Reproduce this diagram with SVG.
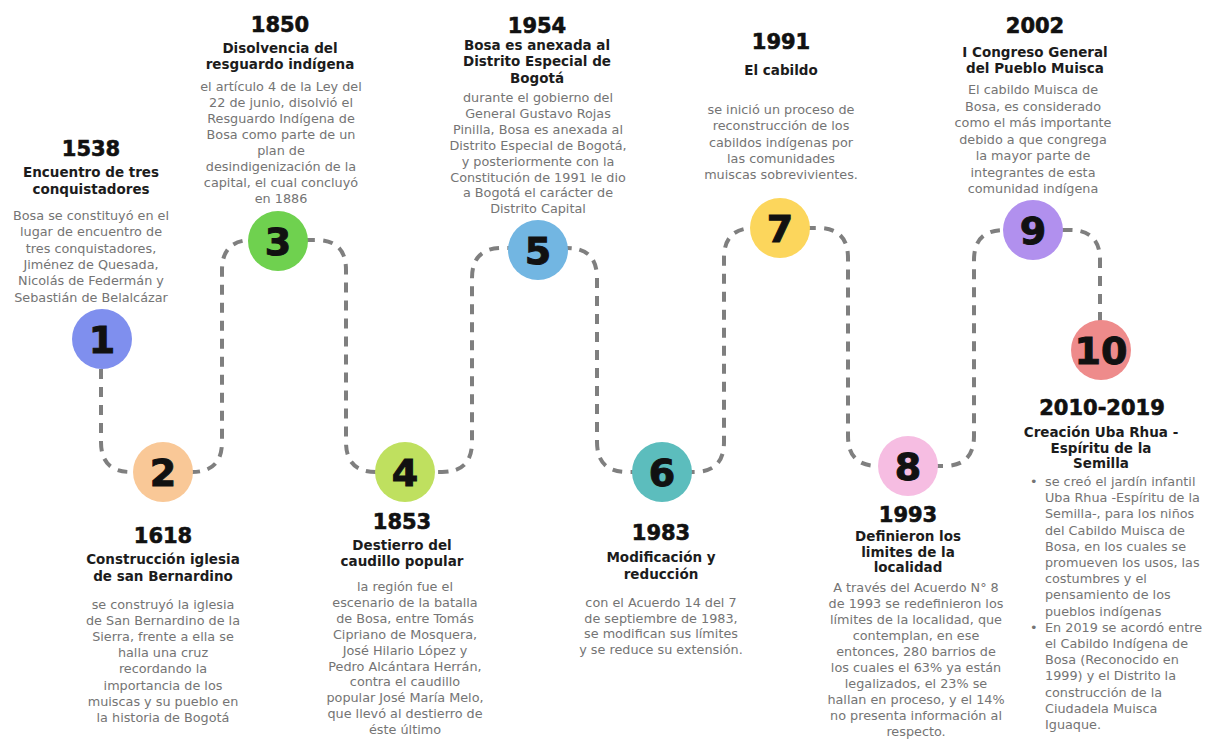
<svg xmlns="http://www.w3.org/2000/svg" width="1211" height="740" viewBox="0 0 1211 740">
<style>
.yr{font-family:"DejaVu Sans",sans-serif;font-weight:bold;font-size:21px;fill:#111;stroke:#111;stroke-width:0.6;text-anchor:middle}
.hd{font-family:"DejaVu Sans",sans-serif;font-weight:bold;font-size:13.5px;fill:#1c1c1c;text-anchor:middle}
.bd{font-family:"DejaVu Sans",sans-serif;font-size:12.8px;fill:#747474;text-anchor:middle}
.ls{font-family:"DejaVu Sans",sans-serif;font-size:12.8px;fill:#747474}
.num{font-family:"DejaVu Sans",sans-serif;font-weight:bold;font-size:38px;fill:#111;stroke:#111;stroke-width:1;text-anchor:middle}
.conn{fill:none;stroke:#7f7f7f;stroke-width:4;stroke-dasharray:10 8}
</style>
<rect width="1211" height="740" fill="#ffffff"/>
<g id="connectors">
<path class="conn" d="M101,369 V442 Q101,472 131,472 H192 Q222,472 222,442 V270 Q222,240 252,240 H316 Q346,240 346,270 V442 Q346,472 376,472 H442 Q472,472 472,442 V278 Q472,248 502,248 H567 Q597,248 597,278 V442 Q597,472 627,472 H694 Q724,472 724,442 V258 Q724,228 754,228 H818 Q848,228 848,258 V436 Q848,466 878,466 H944 Q974,466 974,436 V260 Q974,230 1004,230 H1070 Q1100,230 1100,260 V322"/>
</g>
<g id="n1">
<circle cx="102" cy="339" r="30" fill="#7f8fee"/>
<text class="num" x="102" y="353">1</text>
<text class="yr" x="91" y="156">1538</text>
<text class="hd" x="91" y="177">Encuentro de tres<tspan x="91" dy="16.5">conquistadores</tspan></text>
<text class="bd" x="91" y="220">Bosa se constituyó en el<tspan x="91" dy="16.3">lugar de encuentro de</tspan><tspan x="91" dy="16.3">tres conquistadores,</tspan><tspan x="91" dy="16.3">Jiménez de Quesada,</tspan><tspan x="91" dy="16.3">Nicolás de Federmán y</tspan><tspan x="91" dy="16.3">Sebastián de Belalcázar</tspan></text>
</g>
<g id="n2">
<circle cx="163" cy="472" r="30" fill="#f9c897"/>
<text class="num" x="163" y="486">2</text>
<text class="yr" x="163" y="543">1618</text>
<text class="hd" x="163" y="564">Construcción iglesia<tspan x="163" dy="17">de san Bernardino</tspan></text>
<text class="bd" x="163" y="609">se construyó la iglesia<tspan x="163" dy="16.1">de San Bernardino de la</tspan><tspan x="163" dy="16.1">Sierra, frente a ella se</tspan><tspan x="163" dy="16.1">halla una cruz</tspan><tspan x="163" dy="16.1">recordando la</tspan><tspan x="163" dy="16.1">importancia de los</tspan><tspan x="163" dy="16.1">muiscas y su pueblo en</tspan><tspan x="163" dy="16.1">la historia de Bogotá</tspan></text>
</g>
<g id="n3">
<circle cx="278" cy="241" r="30" fill="#6fd14f"/>
<text class="num" x="278" y="255">3</text>
<text class="yr" x="280" y="32">1850</text>
<text class="hd" x="280" y="53">Disolvencia del<tspan x="280" dy="15.5">resguardo indígena</tspan></text>
<text class="bd" x="281" y="91">el artículo 4 de la Ley del<tspan x="281" dy="16">22 de junio, disolvió el</tspan><tspan x="281" dy="16">Resguardo Indígena de</tspan><tspan x="281" dy="16">Bosa como parte de un</tspan><tspan x="281" dy="16">plan de</tspan><tspan x="281" dy="16">desindigenización de la</tspan><tspan x="281" dy="16">capital, el cual concluyó</tspan><tspan x="281" dy="16">en 1886</tspan></text>
</g>
<g id="n4">
<circle cx="405" cy="472" r="30" fill="#bfe05f"/>
<text class="num" x="405" y="486">4</text>
<text class="yr" x="402" y="529">1853</text>
<text class="hd" x="402" y="550">Destierro del<tspan x="402" dy="16">caudillo popular</tspan></text>
<text class="bd" x="405" y="591">la región fue el<tspan x="405" dy="15.9">escenario de la batalla</tspan><tspan x="405" dy="15.9">de Bosa, entre Tomás</tspan><tspan x="405" dy="15.9">Cipriano de Mosquera,</tspan><tspan x="405" dy="15.9">José Hilario López y</tspan><tspan x="405" dy="15.9">Pedro Alcántara Herrán,</tspan><tspan x="405" dy="15.9">contra el caudillo</tspan><tspan x="405" dy="15.9">popular José María Melo,</tspan><tspan x="405" dy="15.9">que llevó al destierro de</tspan><tspan x="405" dy="15.9">éste último</tspan></text>
</g>
<g id="n5">
<circle cx="538" cy="250" r="30" fill="#72b6e2"/>
<text class="num" x="538" y="264">5</text>
<text class="yr" x="537" y="33">1954</text>
<text class="hd" x="537" y="50">Bosa es anexada al<tspan x="537" dy="16.4">Distrito Especial de</tspan><tspan x="537" dy="16.4">Bogotá</tspan></text>
<text class="bd" x="538" y="102">durante el gobierno del<tspan x="538" dy="15.9">General Gustavo Rojas</tspan><tspan x="538" dy="15.9">Pinilla, Bosa es anexada al</tspan><tspan x="538" dy="15.9">Distrito Especial de Bogotá,</tspan><tspan x="538" dy="15.9">y posteriormente con la</tspan><tspan x="538" dy="15.9">Constitución de 1991 le dio</tspan><tspan x="538" dy="15.9">a Bogotá el carácter de</tspan><tspan x="538" dy="15.9">Distrito Capital</tspan></text>
</g>
<g id="n6">
<circle cx="662" cy="472" r="30" fill="#5cbdbd"/>
<text class="num" x="662" y="486">6</text>
<text class="yr" x="661" y="540">1983</text>
<text class="hd" x="661" y="562">Modificación y<tspan x="661" dy="17">reducción</tspan></text>
<text class="bd" x="661" y="607">con el Acuerdo 14 del 7<tspan x="661" dy="15.7">de septiembre de 1983,</tspan><tspan x="661" dy="15.7">se modifican sus límites</tspan><tspan x="661" dy="15.7">y se reduce su extensión.</tspan></text>
</g>
<g id="n7">
<circle cx="780" cy="228" r="30" fill="#fcd65c"/>
<text class="num" x="780" y="242">7</text>
<text class="yr" x="781" y="49">1991</text>
<text class="hd" x="781" y="75">El cabildo</text>
<text class="bd" x="781" y="114">se inició un proceso de<tspan x="781" dy="16.25">reconstrucción de los</tspan><tspan x="781" dy="16.25">cabildos indígenas por</tspan><tspan x="781" dy="16.25">las comunidades</tspan><tspan x="781" dy="16.25">muiscas sobrevivientes.</tspan></text>
</g>
<g id="n8">
<circle cx="908" cy="466" r="30" fill="#f6bde2"/>
<text class="num" x="908" y="480">8</text>
<text class="yr" x="908" y="522">1993</text>
<text class="hd" x="908" y="541">Definieron los<tspan x="908" dy="15.5">limites de la</tspan><tspan x="908" dy="15.5">localidad</tspan></text>
<text class="bd" x="916" y="592">A través del Acuerdo N° 8<tspan x="916" dy="16">de 1993 se redefinieron los</tspan><tspan x="916" dy="16">límites de la localidad, que</tspan><tspan x="916" dy="16">contemplan, en ese</tspan><tspan x="916" dy="16">entonces, 280 barrios de</tspan><tspan x="916" dy="16">los cuales el 63% ya están</tspan><tspan x="916" dy="16">legalizados, el 23% se</tspan><tspan x="916" dy="16">hallan en proceso, y el 14%</tspan><tspan x="916" dy="16">no presenta información al</tspan><tspan x="916" dy="16">respecto.</tspan></text>
</g>
<g id="n9">
<circle cx="1033" cy="230" r="30" fill="#b190ee"/>
<text class="num" x="1033" y="244">9</text>
<text class="yr" x="1035" y="33">2002</text>
<text class="hd" x="1035" y="57">I Congreso General<tspan x="1035" dy="15.5">del Pueblo Muisca</tspan></text>
<text class="bd" x="1033" y="94">El cabildo Muisca de<tspan x="1033" dy="16.5">Bosa, es considerado</tspan><tspan x="1033" dy="16.5">como el más importante</tspan><tspan x="1033" dy="16.5">debido a que congrega</tspan><tspan x="1033" dy="16.5">la mayor parte de</tspan><tspan x="1033" dy="16.5">integrantes de esta</tspan><tspan x="1033" dy="16.5">comunidad indígena</tspan></text>
</g>
<g id="n10">
<circle cx="1101" cy="350" r="30" fill="#ee8b8b"/>
<text class="num" x="1101" y="364">10</text>
<text class="yr" x="1102" y="415">2010-2019</text>
<text class="hd" x="1101" y="437">Creación Uba Rhua -<tspan x="1101" dy="15.5">Espíritu de la</tspan><tspan x="1101" dy="15.5">Semilla</tspan></text>
<text class="ls" x="1030" y="486">•</text>
<text class="ls" x="1030" y="632">•</text>
<text class="ls" x="1045" y="486">se creó el jardín infantil<tspan x="1045" dy="16.2">Uba Rhua -Espíritu de la</tspan><tspan x="1045" dy="16.2">Semilla-, para los niños</tspan><tspan x="1045" dy="16.2">del Cabildo Muisca de</tspan><tspan x="1045" dy="16.2">Bosa, en los cuales se</tspan><tspan x="1045" dy="16.2">promueven los usos, las</tspan><tspan x="1045" dy="16.2">costumbres y el</tspan><tspan x="1045" dy="16.2">pensamiento de los</tspan><tspan x="1045" dy="16.2">pueblos indígenas</tspan><tspan x="1045" dy="16.2">En 2019 se acordó entre</tspan><tspan x="1045" dy="16.2">el Cabildo Indígena de</tspan><tspan x="1045" dy="16.2">Bosa (Reconocido en</tspan><tspan x="1045" dy="16.2">1999) y el Distrito la</tspan><tspan x="1045" dy="16.2">construcción de la</tspan><tspan x="1045" dy="16.2">Ciudadela Muisca</tspan><tspan x="1045" dy="16.2">Iguaque.</tspan></text>
</g>
</svg>
